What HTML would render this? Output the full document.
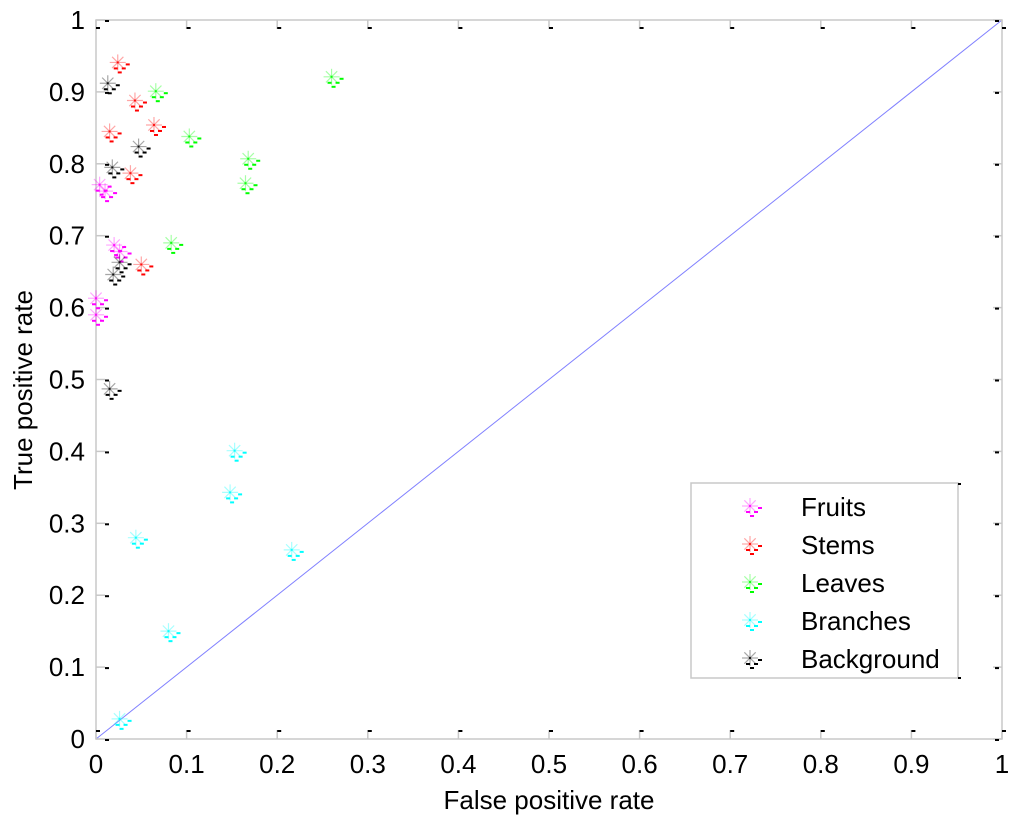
<!DOCTYPE html>
<html><head><meta charset="utf-8"><style>
body{margin:0;background:#fff;}
svg text{font-family:"Liberation Sans",sans-serif;fill:#000;}
</style></head><body>
<svg id="chart" width="1024" height="825" xmlns="http://www.w3.org/2000/svg">
<rect width="1024" height="825" fill="#fff"/>
<g id="axes"></g>
<g id="marks"></g>
<g id="legend"></g>
<text x="549" y="809" font-size="26" text-anchor="middle">False positive rate</text>
<text x="0" y="0" font-size="26" text-anchor="middle" transform="translate(32,390) rotate(-90)">True positive rate</text>
</svg>
<script>
const ticks=[0,0.1,0.2,0.3,0.4,0.5,0.6,0.7,0.8,0.9,1];
const tickLabels=["0","0.1","0.2","0.3","0.4","0.5","0.6","0.7","0.8","0.9","1"];
const seriesNames=["Fruits","Stems","Leaves","Branches","Background"];
const seriesColors=["#ff00ff","#ff0000","#00ff00","#00ffff","#000000"];
const fruitsX=[0.004,0.01,0.02,0.026,0,0];
const fruitsY=[0.771,0.762,0.687,0.678,0.613,0.59];
const stemsX=[0.024,0.043,0.015,0.064,0.038,0.05];
const stemsY=[0.941,0.888,0.845,0.854,0.787,0.66];
const leavesX=[0.066,0.103,0.168,0.165,0.083,0.26];
const leavesY=[0.901,0.838,0.807,0.773,0.69,0.921];
const branchesX=[0.153,0.148,0.044,0.216,0.08,0.026];
const branchesY=[0.401,0.343,0.28,0.263,0.15,0.028];
const backgroundX=[0.013,0.047,0.018,0.026,0.019,0.015];
const backgroundY=[0.912,0.824,0.795,0.663,0.646,0.487];

const X0=96,X1=1002,Y0=739,Y1=20;
const sx=v=>X0+v*(X1-X0);
const sy=v=>Y0-v*(Y0-Y1);
const NS="http://www.w3.org/2000/svg";
function mk(tag,attrs,parent){const e=document.createElementNS(NS,tag);for(const k in attrs)e.setAttribute(k,attrs[k]);parent.appendChild(e);return e;}
const axes=document.getElementById('axes');
const box=mk('rect',{x:X0,y:Y1,width:X1-X0,height:Y0-Y1,fill:'none',stroke:'#c8c8c8','stroke-width':1.5},axes);


const diag=mk('line',{x1:sx(0),y1:sy(0),x2:sx(1),y2:sy(1),stroke:'#8080ff','stroke-width':1},axes);


ticks.forEach((t,i)=>{
  const x=sx(t),y=sy(t);
  mk('line',{x1:x,y1:Y0,x2:x,y2:Y0-9,stroke:'#c8c8c8','stroke-width':1.5},axes);
  mk('rect',{x:x,y:Y0-9,width:4,height:2,fill:'#000'},axes);
  mk('line',{x1:x,y1:Y1,x2:x,y2:Y1+9,stroke:'#c8c8c8','stroke-width':1.5},axes);
  mk('rect',{x:x,y:Y1+7,width:4,height:2,fill:'#000'},axes);
  mk('line',{x1:X0,y1:y,x2:X0+9,y2:y,stroke:'#c8c8c8','stroke-width':1.5},axes);
  mk('rect',{x:X0+9,y:y,width:4,height:2,fill:'#000'},axes);
  mk('line',{x1:X1,y1:y,x2:X1-9,y2:y,stroke:'#c8c8c8','stroke-width':1.5},axes);
  mk('rect',{x:X1-7,y:y,width:4,height:2,fill:'#000'},axes);
  const xt=mk('text',{x:x,y:773,'font-size':26,'text-anchor':'middle'},axes);
  xt.textContent=tickLabels[i];
  
  
  const yt=mk('text',{x:85,y:y+9,'font-size':26,'text-anchor':'end'},axes);
  yt.textContent=tickLabels[i];
  
  
});
function marker(parent,cx,cy,color){
  const g=mk('g',{},parent);
  for(let a=0;a<4;a++){const ang=a*Math.PI/4;const dx=Math.cos(ang)*8,dy=Math.sin(ang)*8;
    mk('line',{x1:cx-dx,y1:cy-dy,x2:cx+dx,y2:cy+dy,stroke:color,'stroke-opacity':0.35,'stroke-width':1.2},g);}
  mk('rect',{x:cx-1,y:cy-1,width:2,height:2,fill:color,opacity:0.7},g);
  [[8,1],[-4,5],[4,5],[0,9]].forEach(([dx,dy])=>mk('rect',{x:cx+dx,y:cy+dy,width:4,height:2,fill:color},g));
  return g;
}
const marks=document.getElementById('marks');
const allX=[fruitsX,stemsX,leavesX,branchesX,backgroundX];
const allY=[fruitsY,stemsY,leavesY,branchesY,backgroundY];
allX.forEach((xs,s)=>{
  xs.forEach((xv,i)=>{
    const g=marker(marks,sx(xv),sy(allY[s][i]),seriesColors[s]);
    
    
  });
});
const lg=document.getElementById('legend');


mk('rect',{x:691,y:483,width:267,height:195,fill:'#fff',stroke:'#c8c8c8','stroke-width':1.5},lg);
mk('rect',{x:958,y:483,width:3,height:2,fill:'#000'},lg);
mk('rect',{x:958,y:677,width:3,height:2,fill:'#000'},lg);
seriesNames.forEach((n,i)=>{
  const y=506+i*38;
  const g=mk('g',{},lg);
  
  
  marker(g,750,y,seriesColors[i]);
  const t=mk('text',{x:801,y:y+10,'font-size':26},g);
  t.textContent=n;
});
</script>
</body></html>
